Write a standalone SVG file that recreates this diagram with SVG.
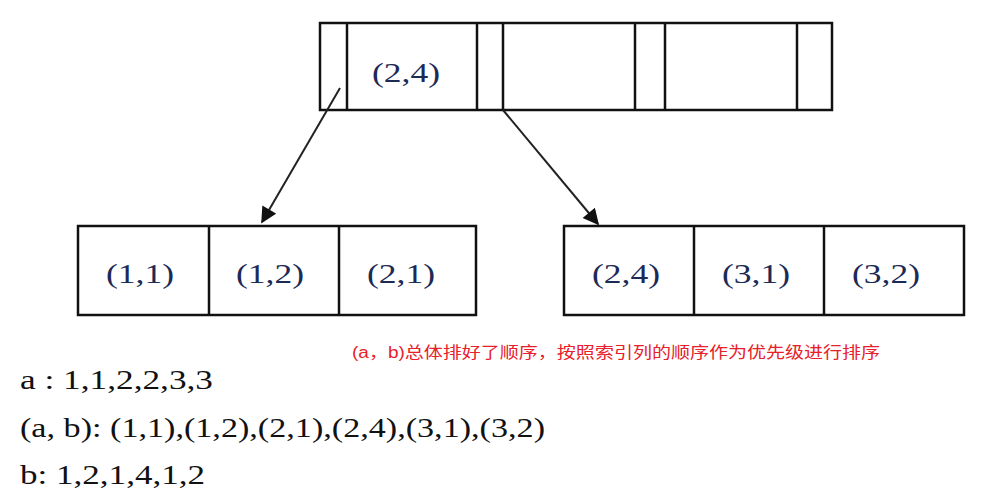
<svg xmlns="http://www.w3.org/2000/svg" width="992" height="495" viewBox="0 0 992 495">
<style>
.b{fill:#fff;stroke:#111;stroke-width:2.5}
.d{stroke:#111;stroke-width:2.5}
.t{font-family:"Liberation Serif",serif;font-size:28px;fill:#1c2a55;text-anchor:middle}
.m{font-family:"Liberation Serif",serif;font-size:28px;fill:#111}
.c{stroke:#222;stroke-width:2;fill:none;marker-end:url(#ah)}
</style>
<defs><marker id="ah" viewBox="0 0 10 10" refX="9" refY="5" markerWidth="18" markerHeight="16" orient="auto" markerUnits="userSpaceOnUse"><path d="M0,0 L10,5 L0,10 z" fill="#111"/></marker></defs>
<rect width="992" height="495" fill="#fff"/>
<g id="root">
<rect class="b" x="320" y="23" width="512" height="87"/>
<line class="d" x1="347" y1="23" x2="347" y2="110"/>
<line class="d" x1="477" y1="23" x2="477" y2="110"/>
<line class="d" x1="503" y1="23" x2="503" y2="110"/>
<line class="d" x1="635" y1="23" x2="635" y2="110"/>
<line class="d" x1="665" y1="23" x2="665" y2="110"/>
<line class="d" x1="797" y1="23" x2="797" y2="110"/>
<text class="t" x="406" y="82" textLength="68" lengthAdjust="spacingAndGlyphs">(2,4)</text>
</g>
<g id="leafL">
<rect class="b" x="78" y="226" width="398" height="89"/>
<line class="d" x1="209" y1="226" x2="209" y2="315"/>
<line class="d" x1="339" y1="226" x2="339" y2="315"/>
<text class="t" x="140" y="283" textLength="68" lengthAdjust="spacingAndGlyphs">(1,1)</text>
<text class="t" x="270" y="283" textLength="68" lengthAdjust="spacingAndGlyphs">(1,2)</text>
<text class="t" x="401" y="283" textLength="68" lengthAdjust="spacingAndGlyphs">(2,1)</text>
</g>
<g id="leafR">
<rect class="b" x="564" y="226" width="400" height="89"/>
<line class="d" x1="694" y1="226" x2="694" y2="315"/>
<line class="d" x1="824" y1="226" x2="824" y2="315"/>
<text class="t" x="626" y="283" textLength="68" lengthAdjust="spacingAndGlyphs">(2,4)</text>
<text class="t" x="756" y="283" textLength="68" lengthAdjust="spacingAndGlyphs">(3,1)</text>
<text class="t" x="886" y="283" textLength="68" lengthAdjust="spacingAndGlyphs">(3,2)</text>
</g>
<g id="connectors">
<line class="c" x1="340" y1="88" x2="262" y2="222"/>
<line class="c" x1="503" y1="110" x2="598" y2="224"/>
</g>
<text x="352" y="358" font-family="Liberation Sans,Noto Sans CJK SC,sans-serif" font-size="16" fill="#e8202a" textLength="528" lengthAdjust="spacingAndGlyphs">(a，b)总体排好了顺序，按照索引列的顺序作为优先级进行排序</text>
<text class="m" x="20" y="389" textLength="193" lengthAdjust="spacingAndGlyphs">a : 1,1,2,2,3,3</text>
<text class="m" x="20" y="437" textLength="525" lengthAdjust="spacingAndGlyphs">(a, b): (1,1),(1,2),(2,1),(2,4),(3,1),(3,2)</text>
<text class="m" x="20" y="484" textLength="185" lengthAdjust="spacingAndGlyphs">b: 1,2,1,4,1,2</text>
</svg>
